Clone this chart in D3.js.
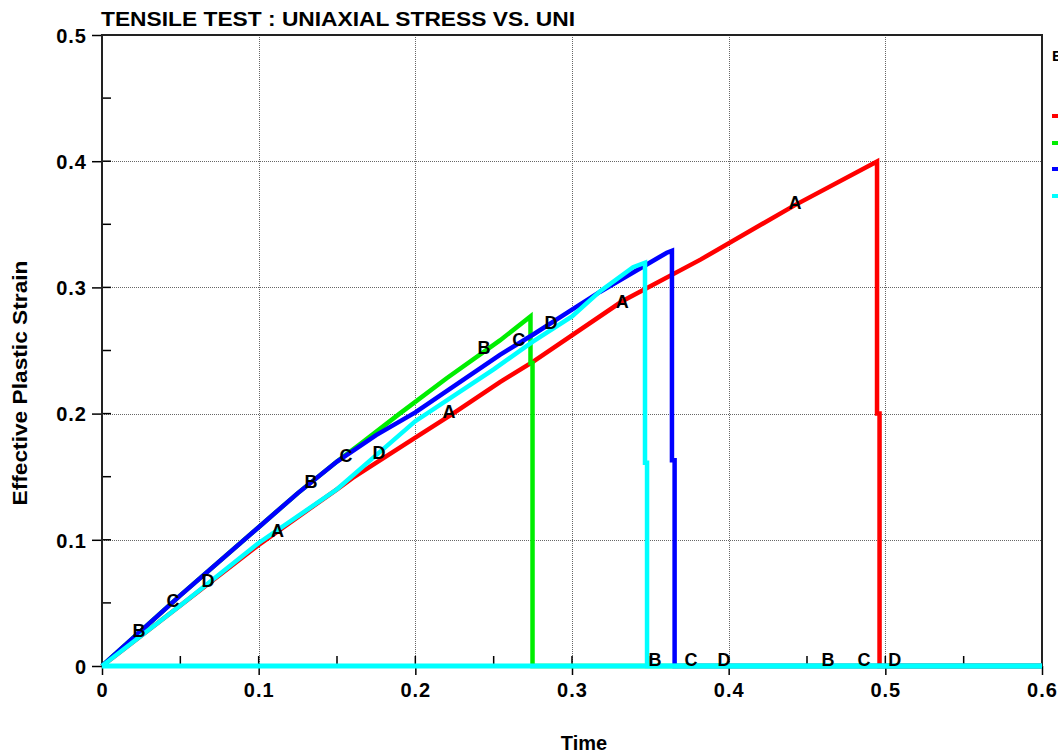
<!DOCTYPE html>
<html>
<head>
<meta charset="utf-8">
<script src="https://cdn.jsdelivr.net/npm/d3@7"></script>
<style>
  body { margin: 0; background: #fff; }
  svg { display: block; font-family: 'Liberation Sans', Arial, sans-serif; }
  .lbl { font-weight: bold; }
</style>
</head>
<body>
<svg id="chart" width="1058" height="754"></svg>
<script>
// Axis ticks
var xTicks = [0, 0.1, 0.2, 0.3, 0.4, 0.5, 0.6];
var xTickLabels = ['0', '0.1', '0.2', '0.3', '0.4', '0.5', '0.6'];
var xMinor = [0.05, 0.15, 0.25, 0.35, 0.45, 0.55];
var yTicks = [0, 0.1, 0.2, 0.3, 0.4, 0.5];
var yTickLabels = ['0', '0.1', '0.2', '0.3', '0.4', '0.5'];
var yMinor = [0.05, 0.15, 0.25, 0.35, 0.45];

// Curve A (red)
var timeA   = [0, 0.05, 0.1, 0.15, 0.16, 0.2, 0.224, 0.254, 0.275, 0.332, 0.382, 0.442, 0.4947, 0.4947, 0.4963, 0.4963, 0.6];
var strainA = [0, 0.048, 0.096, 0.14, 0.149, 0.181, 0.2, 0.225, 0.241, 0.289, 0.322, 0.365, 0.3997, 0.2, 0.2, 0, 0];
// Curve B (green)
var timeB   = [0, 0.05, 0.1, 0.125, 0.15, 0.165, 0.19, 0.22, 0.254, 0.2735, 0.2735, 0.2748, 0.2748, 0.6];
var strainB = [0, 0.056, 0.11, 0.137, 0.162, 0.176, 0.2, 0.228, 0.258, 0.277, 0.24, 0.24, 0, 0];
// Curve C (blue)
var timeC   = [0, 0.05, 0.1, 0.125, 0.15, 0.175, 0.2, 0.254, 0.275, 0.297, 0.318, 0.3605, 0.3638, 0.3638, 0.3655, 0.3655, 0.6];
var strainC = [0, 0.056, 0.11, 0.137, 0.162, 0.183, 0.201, 0.2466, 0.2625, 0.28, 0.2966, 0.3275, 0.329, 0.163, 0.163, 0, 0];
// Curve D (cyan)
var timeD   = [0, 0.05, 0.1, 0.15, 0.2, 0.25, 0.275, 0.3, 0.318, 0.339, 0.3466, 0.3466, 0.3479, 0.3479, 0.6];
var strainD = [0, 0.048, 0.0975, 0.14, 0.194, 0.235, 0.257, 0.277, 0.297, 0.316, 0.3196, 0.161, 0.161, 0, 0];

// Letter markers along each curve
var markA = [[0.112, 0.107], [0.2215, 0.202], [0.332, 0.289], [0.4423, 0.367]];
var markB = [[0.0236, 0.0285], [0.1334, 0.146], [0.2438, 0.252], [0.353, 0.005], [0.4634, 0.005]];
var markC = [[0.0453, 0.052], [0.1557, 0.1665], [0.266, 0.2585], [0.376, 0.005], [0.4864, 0.005]];
var markD = [[0.0677, 0.0674], [0.1768, 0.169], [0.2866, 0.272], [0.397, 0.005], [0.506, 0.005]];

var curves = [
    {name: 'A', color: '#ff0000', t: timeA, s: strainA, marks: markA},
    {name: 'B', color: '#00ee00', t: timeB, s: strainB, marks: markB},
    {name: 'C', color: '#0000ff', t: timeC, s: strainC, marks: markC},
    {name: 'D', color: '#00ffff', t: timeD, s: strainD, marks: markD}
];

var svg = d3.select('#chart');
svg.append('rect').attr('width', 1058).attr('height', 754).attr('fill', '#fff');

var x = d3.scaleLinear().domain([0, 0.6]).range([102, 1042]);
var y = d3.scaleLinear().domain([0, 0.5]).range([666, 35]);

// Grid (dotted)
var grid = svg.append('g').attr('stroke', '#666').attr('stroke-width', 1).attr('stroke-dasharray', '1,1');
grid.selectAll('.gx').data(xTicks.slice(1, -1)).enter().append('line')
    .attr('x1', function (d) { return Math.round(x(d)) + 0.5; })
    .attr('x2', function (d) { return Math.round(x(d)) + 0.5; })
    .attr('y1', y(0.5)).attr('y2', y(0));
grid.selectAll('.gy').data(yTicks.slice(1, -1)).enter().append('line')
    .attr('y1', function (d) { return Math.round(y(d)) + 0.5; })
    .attr('y2', function (d) { return Math.round(y(d)) + 0.5; })
    .attr('x1', x(0)).attr('x2', x(0.6));

// Inner ticks (all ticks point into the plot)
var inner = svg.append('g').attr('stroke', '#000').attr('stroke-width', 1.5);
inner.selectAll('.ix').data(xTicks.concat(xMinor)).enter().append('line')
    .attr('x1', function (d) { return x(d); }).attr('x2', function (d) { return x(d); })
    .attr('y1', y(0)).attr('y2', y(0) - 10);
inner.selectAll('.iy').data(yTicks.concat(yMinor)).enter().append('line')
    .attr('y1', function (d) { return y(d); }).attr('y2', function (d) { return y(d); })
    .attr('x1', x(0)).attr('x2', x(0) + 9);

// Axes with outer major ticks
var xAxis = d3.axisBottom(x).tickValues(xTicks).tickSize(9).tickSizeOuter(0)
    .tickFormat(function (d, i) { return xTickLabels[i]; });
var gx = svg.append('g').attr('transform', 'translate(0,' + y(0) + ')').call(xAxis);
var yAxis = d3.axisLeft(y).tickValues(yTicks).tickSize(10).tickSizeOuter(0)
    .tickFormat(function (d, i) { return yTickLabels[i]; });
var gy = svg.append('g').attr('transform', 'translate(' + x(0) + ',0)').call(yAxis);

[gx, gy].forEach(function (g) {
    g.select('.domain').remove();
    g.selectAll('.tick line').attr('stroke', '#000').attr('stroke-width', 1.5);
    g.selectAll('.tick text').attr('class', 'lbl').attr('fill', '#000')
        .style('font-size', '20px').style('letter-spacing', '1px')
        .style('font-family', "'Liberation Sans', Arial, sans-serif");
});
gx.selectAll('.tick text').attr('dy', null).attr('y', 31);
gy.selectAll('.tick text').attr('x', -15).attr('dy', '0.36em');

// Frame
svg.append('rect')
    .attr('x', x(0)).attr('y', y(0.5))
    .attr('width', x(0.6) - x(0)).attr('height', y(0) - y(0.5))
    .attr('fill', 'none').attr('stroke', '#222').attr('stroke-width', 2);

// Curves
var line = d3.line()
    .x(function (d) { return x(d[0]); })
    .y(function (d) { return y(d[1]); });

curves.forEach(function (c) {
    var pts = c.t.map(function (t, i) { return [t, c.s[i]]; });
    svg.append('path')
        .attr('d', line(pts))
        .attr('fill', 'none')
        .attr('stroke', c.color)
        .attr('stroke-width', 4.5)
        .attr('stroke-linejoin', 'miter');
});

// Last curve's colour covers the whole zero line
svg.append('line')
    .attr('x1', x.range()[0]).attr('x2', x.range()[1])
    .attr('y1', y(0)).attr('y2', y(0))
    .attr('stroke', curves[3].color).attr('stroke-width', 5);

// Letter markers
curves.forEach(function (c) {
    svg.selectAll(null).data(c.marks).enter().append('text')
        .attr('class', 'lbl')
        .attr('x', function (d) { return x(d[0]); })
        .attr('y', function (d) { return y(d[1]); })
        .attr('dy', '0.36em')
        .attr('text-anchor', 'middle')
        .style('font-size', '18px')
        .text(c.name);
});

// Title and axis labels
svg.append('text').attr('class', 'lbl')
    .attr('x', 101).attr('y', 26)
    .attr('textLength', 474).attr('lengthAdjust', 'spacingAndGlyphs')
    .style('font-size', '21px')
    .text('TENSILE TEST : UNIAXIAL STRESS VS. UNI');

svg.append('text').attr('class', 'lbl')
    .attr('x', 584).attr('y', 750)
    .attr('text-anchor', 'middle')
    .style('font-size', '20px')
    .text('Time');

svg.append('text').attr('class', 'lbl')
    .attr('transform', 'translate(27,383) rotate(-90)')
    .attr('text-anchor', 'middle')
    .attr('textLength', 245).attr('lengthAdjust', 'spacingAndGlyphs')
    .style('font-size', '20px')
    .text('Effective Plastic Strain');

// Legend (cut off at the right edge)
svg.append('text').attr('class', 'lbl')
    .attr('x', 1052).attr('y', 61)
    .style('font-size', '15px')
    .text('E');
var legY = [116, 143, 169, 196];
svg.selectAll('.leg').data(curves).enter().append('line')
    .attr('x1', 1052).attr('x2', 1062)
    .attr('y1', function (d, i) { return legY[i]; })
    .attr('y2', function (d, i) { return legY[i]; })
    .attr('stroke', function (d) { return d.color; })
    .attr('stroke-width', 4);
</script>
</body>
</html>
